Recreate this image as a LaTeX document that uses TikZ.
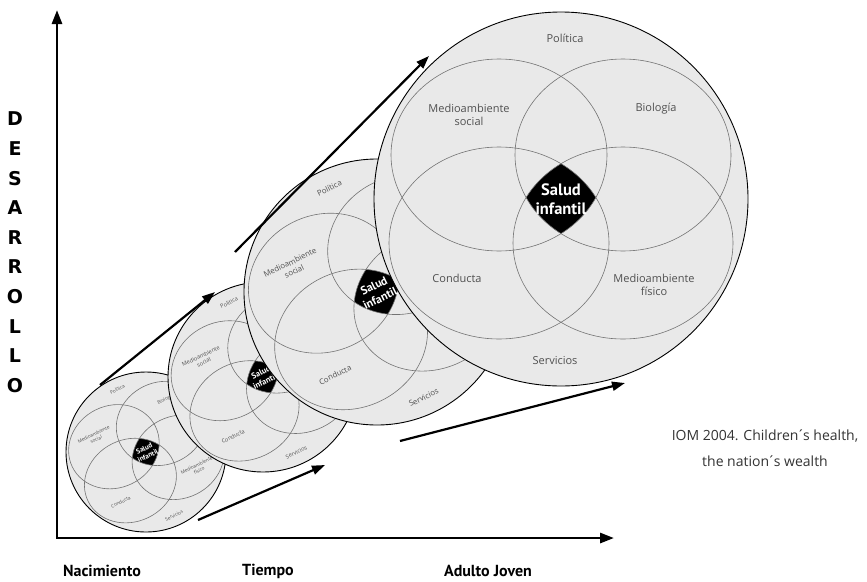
\documentclass[tikz,border=0pt]{standalone}
\usepackage{fontspec}
\setmainfont{Open Sans}
\newfontfamily\axisfont{PT Sans}
\newfontfamily\capsfont{DejaVu Sans}
\usetikzlibrary{arrows.meta}

\definecolor{discfill}{HTML}{E9E9E9}
\definecolor{ringgray}{HTML}{737373}
\definecolor{labelgray}{HTML}{505050}
\definecolor{citegray}{HTML}{333333}

\tikzset{
  disc/.style={circle, draw=black, line width=0.9pt, fill=discfill,
    inner sep=0pt, outer sep=0pt, minimum size=#1},
  ring/.style={draw=ringgray, line width=0.6pt},
  factor/.style={font=\fontsize{11}{13.5}\selectfont, text=labelgray,
    align=center, inner sep=1pt},
  core/.style={font=\axisfont\bfseries\fontsize{16.5}{19.5}\selectfont,
    text=white, align=center, inner sep=0pt},
  flow/.style={line width=2.2pt, -{Triangle[length=13pt, width=9pt]}},
  axisline/.style={line width=2.8pt,
    {Triangle[length=14pt, width=10pt]}-{Triangle[length=14pt, width=10pt]}},
  axislabel/.style={font=\axisfont\bfseries\fontsize{16}{18}\selectfont},
  vletter/.style={font=\capsfont\bfseries\fontsize{19}{20}\selectfont, inner sep=0pt},
  citation/.style={font=\fontsize{14}{26}\selectfont, text=citegray, align=center},
}

% Four overlapping factor fields around the child-health core,
% drawn for a disc of radius 187 and placed by shift / rotation / scale.
% #5 = 1 also sets the two right-hand labels (hidden on the covered discs).
\newcommand\factorfield[5]{%
  \begin{scope}[shift={#2}, rotate=#3, scale=#4,
                every node/.append style={transform shape}]
    \begin{scope}
      \clip (-62,-44) ellipse [x radius=108, y radius=96];
      \clip (62,-44) ellipse [x radius=108, y radius=96];
      \clip (-62,44) ellipse [x radius=110, y radius=96];
      \fill[black] (62,44) ellipse [x radius=110, y radius=96];
    \end{scope}
    \draw[ring] (-62,-44) ellipse [x radius=108, y radius=96];
    \draw[ring] (62,-44) ellipse [x radius=108, y radius=96];
    \draw[ring] (-62,44) ellipse [x radius=110, y radius=96];
    \draw[ring] (62,44) ellipse [x radius=110, y radius=96];
    \node[core] (#1-core) at (0,0) {Salud\\infantil};
    \node[factor] (#1-pol) at (4,-161) {Política};
    \node[factor] (#1-soc) at (-92,-84) {Medioambiente\\social};
    \node[factor] (#1-con) at (-104,79) {Conducta};
    \node[factor] (#1-ser) at (-6,162) {Servicios};
    \ifnum#5=1
      \node[factor] (#1-bio) at (95,-90) {Biología};
      \node[factor] (#1-fis) at (93,86) {Medioambiente\\físico};
    \fi
  \end{scope}}

\begin{document}
\begin{tikzpicture}[x=1pt, y=-1pt]
\useasboundingbox (0,0) rectangle (867,581);

% growing discs, each one laid over the previous
\node[disc=160pt] (d1) at (146,452) {};
\factorfield{f1}{(146,452)}{26}{0.428}{1}
\node[disc=190pt] (d2) at (263,377) {};
\factorfield{f2}{(263,377)}{26}{0.508}{0}
\node[disc=266pt] (d3) at (377,292) {};
\factorfield{f3}{(377,292)}{26}{0.711}{0}
\node[disc=374pt] (d4) at (561,199) {};
\factorfield{f4}{(561,199)}{0}{1}{1}

% growth arrows between the discs
\coordinate (a1s) at (100,385);
\coordinate (a1e) at (215,292);
\coordinate (a2s) at (235,252);
\coordinate (a2e) at (429,56);
\coordinate (a3s) at (400,441);
\coordinate (a3e) at (625,383);
\coordinate (a4s) at (198,520);
\coordinate (a4e) at (325,465);
\draw[flow] (a1s) -- (a1e);
\draw[flow] (a2s) -- (a2e);
\draw[flow] (a4s) -- (a4e);
\draw[flow] (a3s) -- (a3e);

% axes
\coordinate (ytop) at (57,10);
\coordinate (orig) at (57,538);
\coordinate (xend) at (614,538);
\draw[axisline] (ytop) -- (orig) -- (xend);

% vertical axis title, one letter per line
\foreach \ch [count=\i from 0] in {D,E,S,A,R,R,O,L,L,O}
  \node[vletter] (v\i) at (15,{119+29.6*\i}) {\ch};

% time axis labels
\node[axislabel] (birth) at (102,571) {Nacimiento};
\node[axislabel] (time) at (268,571) {Tiempo};
\node[axislabel] (adult) at (488,571) {Adulto Joven};

% source
\node[citation] (src) at (765,448)
  {IOM 2004. Children\kern-.12em´\kern-.12em s health,\\the nation\kern-.12em´\kern-.12em s wealth};
\end{tikzpicture}
\end{document}
